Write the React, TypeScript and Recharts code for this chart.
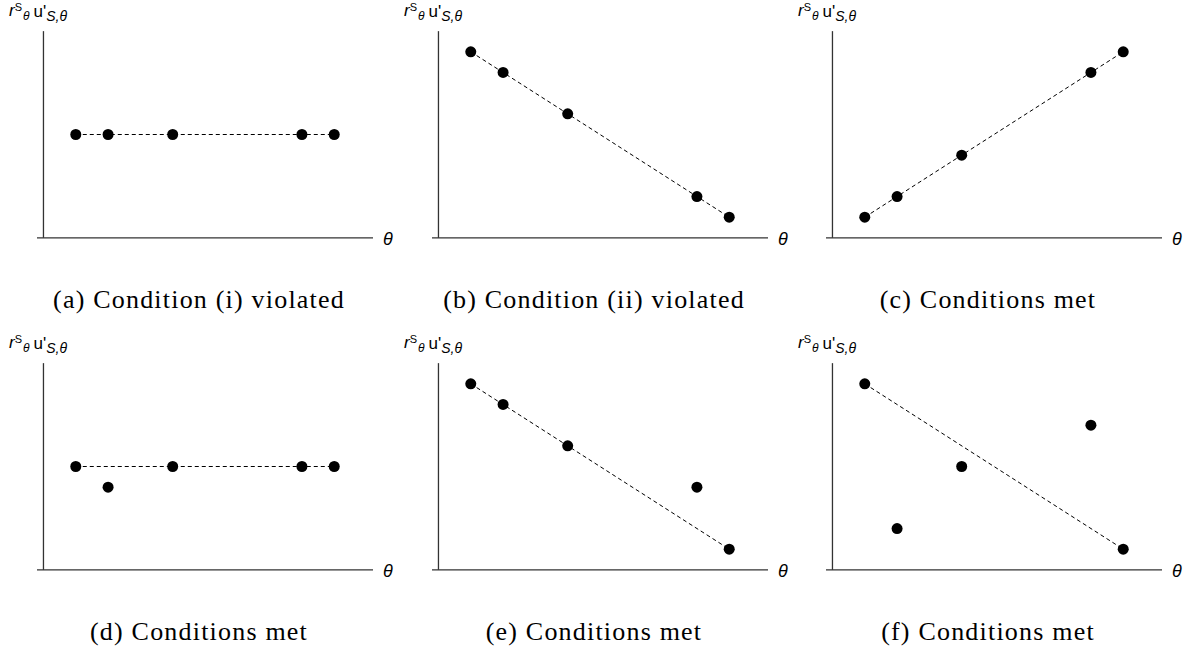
import React from "react";
import { ComposedChart, Scatter, Line, XAxis, YAxis, ReferenceLine, Customized } from "recharts";

// theta positions shared by all six panels
const thetas = [1, 2, 4, 8, 9];

// r^S_theta u'_{S,theta} values per panel
const valuesA = [5, 5, 5, 5, 5];
const valuesB = [9, 8, 6, 2, 1];
const valuesC = [1, 2, 4, 8, 9];
const valuesD = [5, 4, 5, 5, 5];
const valuesE = [9, 8, 6, 4, 1];
const valuesF = [9, 2, 5, 7, 1];

// dashed reference line endpoints (theta = 1 and theta = 9)
const lineEnds = [1, 9];
const lineA = [5, 5];
const lineB = [9, 1];
const lineC = [1, 9];
const lineD = [5, 5];
const lineE = [9, 1];
const lineF = [9, 1];

const captions = [
  "(a) Condition (i) violated",
  "(b) Condition (ii) violated",
  "(c) Conditions met",
  "(d) Conditions met",
  "(e) Conditions met",
  "(f) Conditions met",
];

const panels = [
  { vals: valuesA, line: lineA },
  { vals: valuesB, line: lineB },
  { vals: valuesC, line: lineC },
  { vals: valuesD, line: lineD },
  { vals: valuesE, line: lineE },
  { vals: valuesF, line: lineF },
];

const COL_X = [0, 395, 789];
const ROW_Y = [0, 332];
const W = 405;
const H = 332;
const AXIS = "#333";
const SANS = "'Liberation Sans', Arial, sans-serif";
const SERIF = "'Liberation Serif', 'Times New Roman', serif";

const Labels = ({ caption }: { caption: string }) => (
  <g>
    <text x={9} y={16} fontFamily={SANS} fill="#000">
      <tspan fontSize={17} fontStyle="italic">r</tspan>
      <tspan fontSize={11} y={11}>S</tspan>
      <tspan fontSize={12} y={20} fontStyle="italic" dx={1}>θ</tspan>
      <tspan fontSize={17} y={17} dx={4}>u'</tspan>
      <tspan fontSize={14} y={21} fontStyle="italic">S,θ</tspan>
    </text>
    <text x={383} y={245} fontSize={18} fontStyle="italic" fontFamily={SANS} fill="#000">
      θ
    </text>
    <text
      x={199} y={308} textAnchor="middle" fontSize={26} letterSpacing={1.2}
      fontFamily={SERIF} fill="#000"
    >
      {caption}
    </text>
  </g>
);

const Panel = ({ idx }: { idx: number }) => {
  const p = panels[idx];
  const pts = thetas.map((t, i) => ({ x: t, y: p.vals[i] }));
  const fit = lineEnds.map((t, i) => ({ x: t, y: p.line[i] }));
  return (
    <div style={{ position: "absolute", left: COL_X[idx % 3], top: ROW_Y[Math.floor(idx / 3)] }}>
      <ComposedChart width={W} height={H} margin={{ top: 27, right: W - 373, bottom: H - 242, left: 37 }}>
        <XAxis type="number" dataKey="x" domain={[-0.2, 10.2]} hide allowDataOverflow />
        <YAxis type="number" dataKey="y" domain={[-0.2, 10.2]} hide allowDataOverflow />
        <ReferenceLine segment={[{ x: 0, y: 0 }, { x: 0, y: 10 }]} stroke={AXIS} strokeWidth={1.3} ifOverflow="visible" />
        <ReferenceLine segment={[{ x: -0.2, y: 0 }, { x: 10.2, y: 0 }]} stroke={AXIS} strokeWidth={1.3} ifOverflow="visible" />
        <Line
          data={fit} dataKey="y" type="linear" stroke="#000" strokeWidth={1}
          strokeDasharray="4 3" dot={false} activeDot={false} isAnimationActive={false}
        />
        <Scatter data={pts} fill="#000" isAnimationActive={false}
          shape={(s: any) => <circle cx={s.cx} cy={s.cy} r={5.5} fill="#000" />} />
        <Customized component={() => <Labels caption={captions[idx]} />} />
      </ComposedChart>
    </div>
  );
}

export default function App() {
  return (
    <div style={{ position: "absolute", left: 0, top: 0, width: 1194, height: 651, background: "#fff", overflow: "hidden" }}>
      {panels.map((_, i) => <Panel key={i} idx={i} />)}
    </div>
  );
}
